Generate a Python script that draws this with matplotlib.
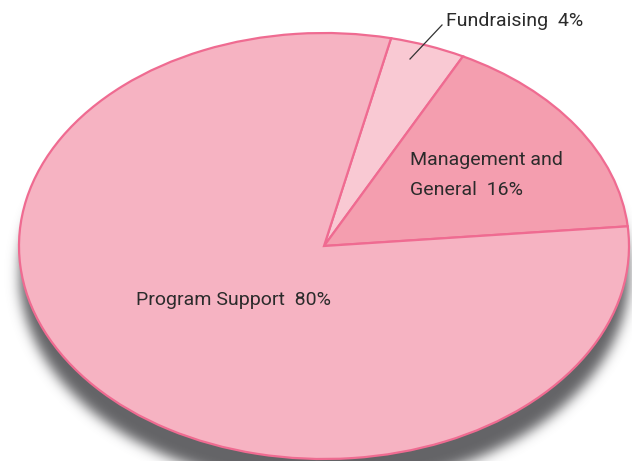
import numpy as np
import matplotlib.pyplot as plt

labels = ["Fundraising", "Management and\nGeneral", "Program Support"]
shares = [4, 16, 80]
colors = ["#F9C9D3", "#F49EAF", "#F6B3C2"]
edge = "#EF6B91"

W, H = 632, 461
cx, cy = 324, 246        # pie centre in pixels
rx, ry = 305, 213        # ellipse semi-axes in pixels

fig = plt.figure(figsize=(W / 100, H / 100), dpi=100)
ax = fig.add_axes([0, 0, 1, 1])
ext = [-cx / rx, (W - cx) / rx, (cy - H) / ry, cy / ry]

# blurred drop shadow below the pie
gx, gy = np.meshgrid(np.arange(W), np.arange(H + 60))
off = 27
mask = (((gx - cx) / rx) ** 2 + ((gy - cy - off) / ry) ** 2 <= 1).astype(float)
sig = 6.0
k = np.exp(-0.5 * (np.arange(-20, 21) / sig) ** 2)
k /= k.sum()
pad = np.pad(mask, 20, mode="edge")
pad = np.apply_along_axis(lambda r: np.convolve(r, k, mode="same"), 1, pad)
pad = np.apply_along_axis(lambda c: np.convolve(c, k, mode="same"), 0, pad)
mask = pad[20:20 + H, 20:20 + W]
img = np.zeros((H, W, 4))
img[..., :3] = [0.39, 0.39, 0.40]
img[..., 3] = mask
ax.imshow(img, extent=ext, aspect="auto", zorder=0, interpolation="bilinear")

wedges, _ = ax.pie(shares, colors=colors, startangle=77.3, counterclock=False,
                   radius=1.0, center=(0, 0),
                   wedgeprops=dict(edgecolor=edge, linewidth=1.6))
for w in wedges:
    w.set_zorder(2)
ax.set_xlim(ext[0], ext[1])
ax.set_ylim(ext[2], ext[3])
ax.set_aspect("auto")
ax.axis("off")

font = dict(family=["Roboto", "DejaVu Sans"], color="#2b2b2b", fontsize=14)

def pix(x, y):
    return x / W, 1 - y / H

ax.text(*pix(136, 300), f"{labels[2]}  {shares[2]}%", transform=fig.transFigure,
        va="center", ha="left", **font)
ax.text(*pix(410, 160), "Management and", transform=fig.transFigure,
        va="center", ha="left", **font)
ax.text(*pix(410, 190), f"General  {shares[1]}%", transform=fig.transFigure,
        va="center", ha="left", **font)
ax.text(*pix(446, 21), f"{labels[0]}  {shares[0]}%", transform=fig.transFigure,
        va="center", ha="left", **font)
ax.plot([pix(410, 59)[0], pix(442, 25)[0]], [pix(410, 59)[1], pix(442, 25)[1]],
        transform=fig.transFigure, color="#333333", lw=0.9, zorder=5)

fig.savefig("out.png", dpi=100)
